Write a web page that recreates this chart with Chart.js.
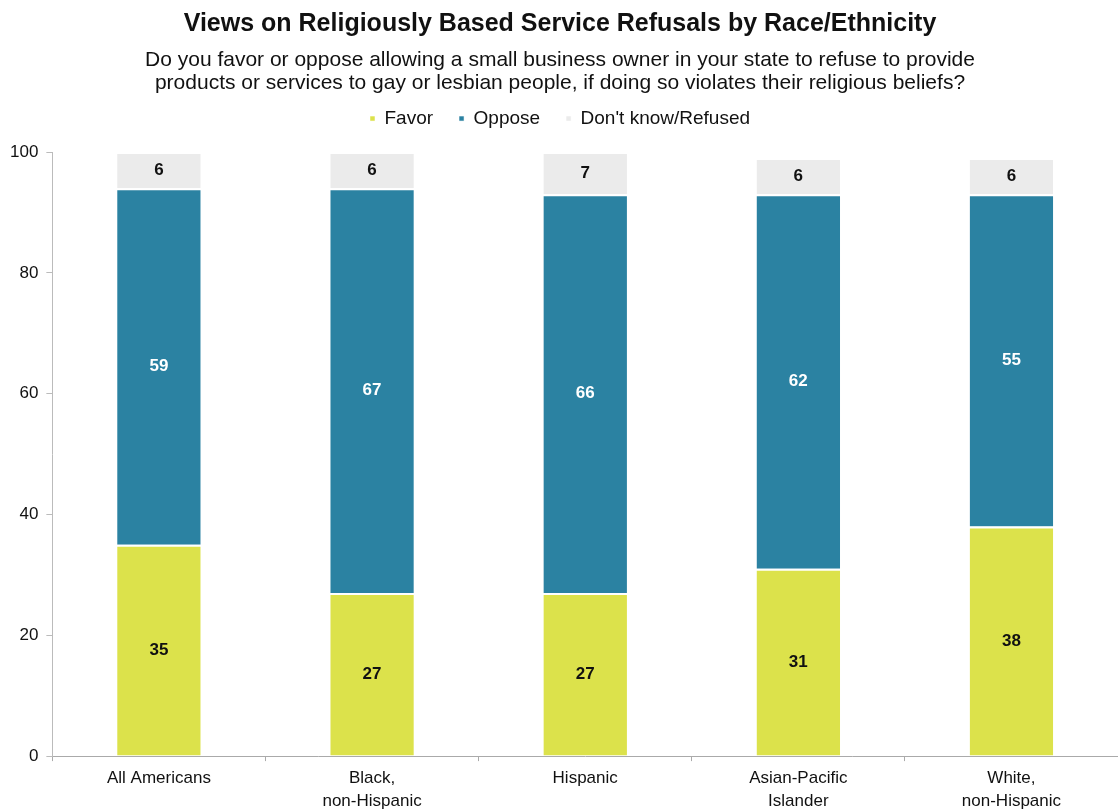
<!DOCTYPE html>
<html>
<head>
<meta charset="utf-8">
<script src="https://cdn.jsdelivr.net/npm/chart.js@4"></script>
<style>
  html, body { margin: 0; padding: 0; background: #fff; }
  #wrap { width: 1118px; height: 811px; position: relative; }
</style>
</head>
<body>
<div id="wrap"><canvas id="myChart"></canvas></div>
<script>
const groups = [
  'All Americans',
  ['Black,', 'non-Hispanic'],
  'Hispanic',
  ['Asian-Pacific', 'Islander'],
  ['White,', 'non-Hispanic']
];
const favor = [35, 27, 27, 31, 38];
const oppose = [59, 67, 66, 62, 55];
const dontKnow = [6, 6, 7, 6, 6];
const yTicks = [0, 20, 40, 60, 80, 100];

const FONT = "'Liberation Sans', Arial, sans-serif";

// writes each segment's value in the middle of its bar
const segmentLabels = {
  id: 'segmentLabels',
  afterDatasetsDraw(chart) {
    const ctx = chart.ctx;
    ctx.save();
    ctx.font = 'bold 17px ' + FONT;
    ctx.textAlign = 'center';
    ctx.textBaseline = 'middle';
    chart.data.datasets.forEach((ds, i) => {
      const meta = chart.getDatasetMeta(i);
      meta.data.forEach((bar, j) => {
        const mid = (bar.y + bar.base) / 2;
        ctx.fillStyle = ds.labelColor;
        ctx.fillText(ds.data[j], bar.x, mid);
      });
    });
    ctx.restore();
  }
};

// leaves some room between the legend and the bars
const legendGap = {
  id: 'legendGap',
  beforeInit(chart) {
    const fit = chart.legend.fit;
    chart.legend.fit = function () {
      fit.bind(chart.legend)();
      this.height += 14;
    };
  }
};

document.addEventListener('DOMContentLoaded', function () {
  const ctx = document.getElementById('myChart').getContext('2d');
  window.myChart = new Chart(ctx, {
    type: 'bar',
    data: {
      labels: groups,
      datasets: [
        { label: 'Favor', data: favor, backgroundColor: '#dce24b', labelColor: '#111' },
        { label: 'Oppose', data: oppose, backgroundColor: '#2b82a2', labelColor: '#fff' },
        { label: "Don't know/Refused", data: dontKnow, backgroundColor: '#ebebeb', labelColor: '#111' }
      ].map(d => Object.assign(d, {
        borderColor: '#ffffff',
        borderWidth: { top: 2, bottom: 0, left: 0, right: 0 },
        borderSkipped: false,
        categoryPercentage: 0.8,
        barPercentage: 0.49
      }))
    },
    options: {
      responsive: true,
      maintainAspectRatio: false,
      animation: false,
      layout: { padding: { left: 2, right: 0, top: 0, bottom: -8 } },
      plugins: {
        title: {
          display: true,
          text: 'Views on Religiously Based Service Refusals by Race/Ethnicity',
          color: '#111',
          font: { family: FONT, size: 25, weight: 'bold' },
          padding: { top: 9, bottom: 9 }
        },
        subtitle: {
          display: true,
          text: [
            'Do you favor or oppose allowing a small business owner in your state to refuse to provide',
            'products or services to gay or lesbian people, if doing so violates their religious beliefs?'
          ],
          color: '#111',
          font: { family: FONT, size: 21, lineHeight: 1.12 },
          padding: { top: 0, bottom: -12 }
        },
        legend: {
          position: 'top',
          labels: {
            usePointStyle: true,
            pointStyle: 'rect',
            boxWidth: 5,
            boxHeight: 5,
            padding: 26,
            color: '#111',
            font: { family: FONT, size: 19 }
          }
        },
        tooltip: { enabled: false }
      },
      scales: {
        x: {
          stacked: true,
          grid: { display: true, drawOnChartArea: false, drawTicks: true, tickLength: 5, color: '#aaa', offset: true },
          border: { display: true, color: '#aaa' },
          ticks: { color: '#111', font: { family: FONT, size: 17, lineHeight: 1.35 }, padding: 6, maxRotation: 0 }
        },
        y: {
          stacked: true,
          min: 0,
          max: 100,
          afterBuildTicks: axis => { axis.ticks = yTicks.map(v => ({ value: v })); },
          grid: { display: true, drawOnChartArea: false, drawTicks: true, tickLength: 6, color: '#bbb' },
          border: { display: true, color: '#bbb' },
          ticks: { color: '#111', font: { family: FONT, size: 17 }, padding: 8 }
        }
      }
    },
    plugins: [segmentLabels, legendGap]
  });
});
</script>
</body>
</html>
